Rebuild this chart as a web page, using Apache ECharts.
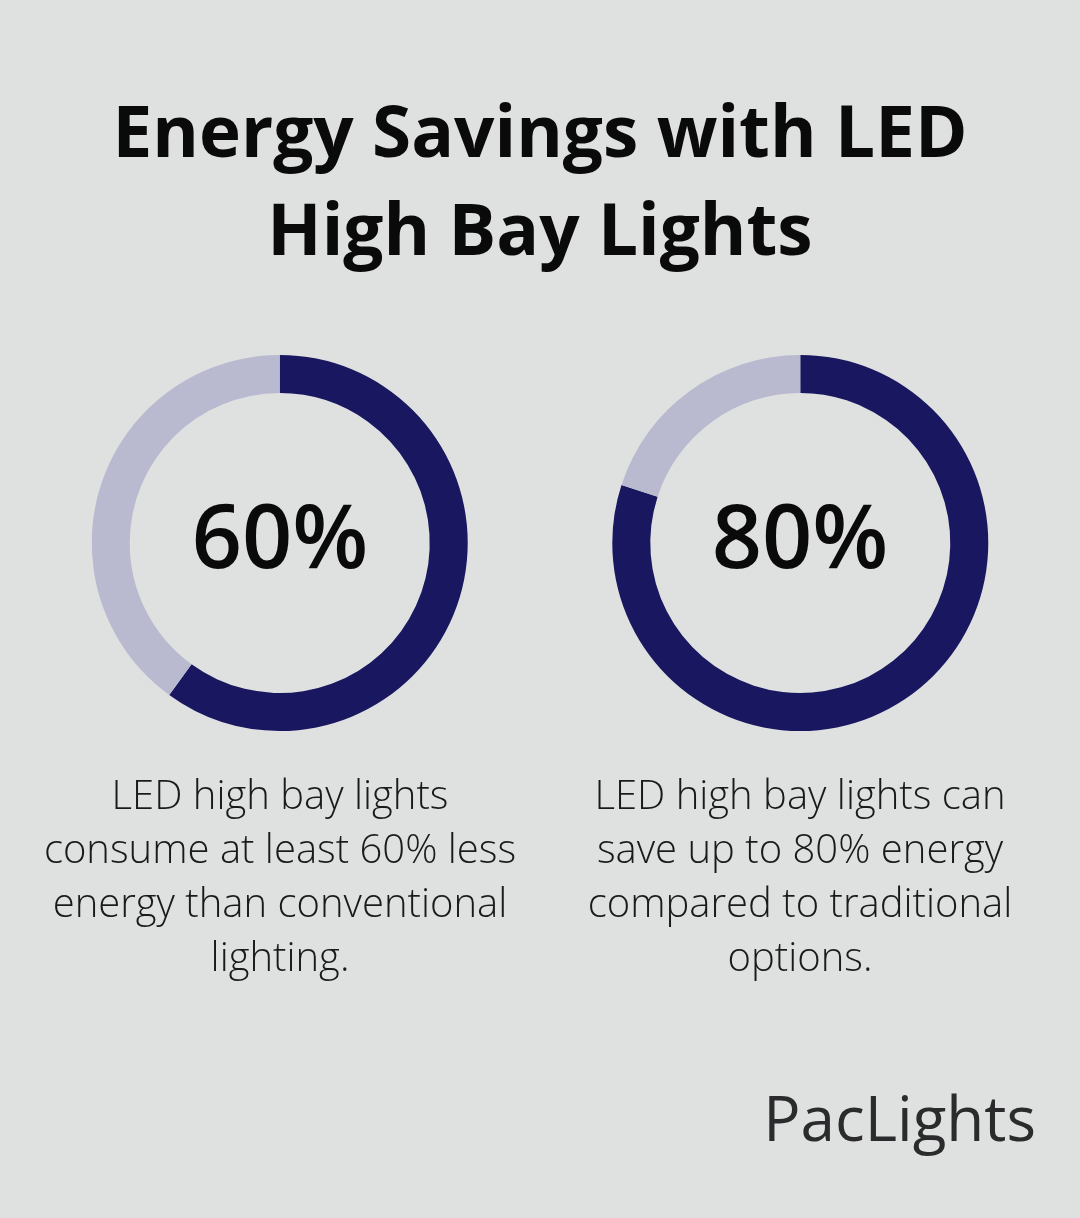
<!DOCTYPE html>
<html>
<head>
<meta charset="utf-8">
<script src="https://cdn.jsdelivr.net/npm/echarts@6/dist/echarts.min.js"></script>
<style>
  html, body { margin: 0; padding: 0; background: #dfe1e0; }
  #chart { width: 1080px; height: 1218px; }
</style>
</head>
<body>
<div id="chart"></div>
<script>
const percents = [60, 80];
const centersX = ['25.9%', '74.1%'];
const captions = [
  'LED high bay lights\nconsume at least 60% less\nenergy than conventional\nlighting.',
  'LED high bay lights can\nsave up to 80% energy\ncompared to traditional\noptions.'
];

const dark = '#19175f';
const light = '#b9bad0';

const chart = echarts.init(document.getElementById('chart'));

const series = percents.map((p, i) => ({
  type: 'pie',
  radius: [150, 188],
  center: [centersX[i], 543],
  startAngle: 90,
  clockwise: true,
  silent: true,
  label: { show: false },
  labelLine: { show: false },
  data: [
    { value: p, itemStyle: { color: dark } },
    { value: 100 - p, itemStyle: { color: light } }
  ]
}));

const graphic = [
  {
    type: 'text', left: 'center', top: 88,
    style: {
      text: 'Energy Savings with LED\nHigh Bay Lights',
      font: 'bold 71px "Open Sans"', fill: '#0a0a0a',
      textAlign: 'center', lineHeight: 98
    }
  },
  {
    type: 'text', right: 44, top: 1092,
    style: { text: 'PacLights', font: '500 62px "Open Sans"', fill: '#2b2a2c' }
  }
];
percents.forEach((p, i) => {
  const cx = i === 0 ? 280 : 800;
  graphic.push({
    type: 'text', x: cx, y: 543,
    style: {
      text: p + '%', font: '600 88px "Open Sans"', fill: '#0a0a0a',
      textAlign: 'center', textVerticalAlign: 'middle'
    }
  });
  graphic.push({
    type: 'text', x: cx, y: 771,
    style: {
      text: captions[i], font: '300 40px "Open Sans"', fill: '#1a1a1a',
      textAlign: 'center', lineHeight: 54
    }
  });
});

chart.setOption({
  backgroundColor: '#dfe1e0',
  animation: false,
  series: series,
  graphic: graphic
});
</script>
</body>
</html>
